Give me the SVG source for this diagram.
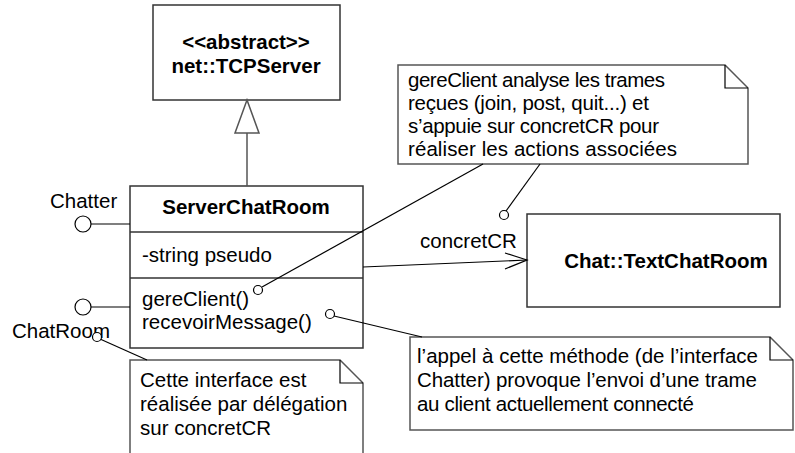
<svg xmlns="http://www.w3.org/2000/svg" width="795" height="453" viewBox="0 0 795 453">
<style>
text{font-family:"Liberation Sans",Arial,sans-serif;font-size:20.5px;fill:#000}
.b{font-weight:bold}
.box{fill:#fff;stroke:#333;stroke-width:1.5}
.note{fill:#fff;stroke:#555;stroke-width:1.5}
.ln{fill:none;stroke:#000;stroke-width:1.2}
.gl{fill:#fff;stroke:#555;stroke-width:1.5}
.c{fill:#fff;stroke:#000;stroke-width:1.2}
</style>
<rect width="795" height="453" fill="#fff"/>
<g id="tcpserver">
  <rect class="box" x="153" y="5" width="187" height="95"/>
  <text class="b" x="246" y="49" text-anchor="middle">&lt;&lt;abstract&gt;&gt;</text>
  <text class="b" x="246" y="73" text-anchor="middle">net::TCPServer</text>
</g>
<g id="serverchatroom">
  <rect class="box" x="130" y="186" width="233" height="162"/>
  <line class="box" x1="130" y1="232" x2="363" y2="232"/>
  <line class="box" x1="130" y1="278" x2="363" y2="278"/>
  <text class="b" x="246" y="214" text-anchor="middle">ServerChatRoom</text>
  <text x="142" y="262">-string pseudo</text>
  <text x="142" y="306">gereClient()</text>
  <text x="142" y="329">recevoirMessage()</text>
</g>
<g id="chatter">
  <circle class="c" cx="83" cy="224" r="8"/>
  <text x="50" y="208">Chatter</text>
</g>
<g id="chatroom">
  <circle class="c" cx="83" cy="307" r="8"/>
  <text x="12" y="338">ChatRoom</text>
</g>
<g id="textchatroom">
  <rect class="box" x="527" y="214" width="253" height="93"/>
  <text class="b" x="666" y="268" text-anchor="middle">Chat::TextChatRoom</text>
  <text x="420" y="248">concretCR</text>
</g>
<g id="note1">
  <polygon class="note" points="398,65 725,65 748,88 748,164 398,164"/>
  <polyline class="ln" points="725,65 725,88 748,88"/>
  <text x="408" y="87" textLength="257">gereClient analyse les trames</text>
  <text x="408" y="110" textLength="241">reçues (join, post, quit...) et</text>
  <text x="408" y="133" textLength="251">s’appuie sur concretCR pour</text>
  <text x="408" y="156" textLength="269">réaliser les actions associées</text>
</g>
<g id="note2">
  <polygon class="note" points="410,337 770,337 793,360 793,430 410,430"/>
  <polyline class="ln" points="770,337 770,360 793,360"/>
  <text x="417" y="363" textLength="341">l’appel à cette méthode (de l’interface</text>
  <text x="417" y="387" textLength="340">Chatter) provoque l’envoi d’une trame</text>
  <text x="417" y="411" textLength="277">au client actuellement connecté</text>
</g>
<g id="note3">
  <polygon class="note" points="130,360 340,360 363,383 363,460 130,460"/>
  <polyline class="ln" points="340,360 340,383 363,383"/>
  <text x="140" y="387">Cette interface est</text>
  <text x="140" y="411">réalisée par délégation</text>
  <text x="140" y="435">sur concretCR</text>
</g>
<g id="connectors">
  <line class="gl" x1="247" y1="133" x2="247" y2="186"/>
  <polygon class="gl" points="247,100 235,133 259,133"/>
  <line class="ln" x1="91" y1="224" x2="130" y2="224"/>
  <line class="ln" x1="91" y1="307" x2="130" y2="307"/>
  <line class="ln" x1="363" y1="267" x2="527" y2="260"/>
  <polyline class="ln" points="505,253 527,260 505,269"/>
  <line class="ln" x1="483" y1="164" x2="262" y2="287"/>
  <line class="ln" x1="540" y1="164" x2="506" y2="211"/>
  <line class="ln" x1="334" y1="316" x2="422" y2="337"/>
  <line class="ln" x1="100" y1="339" x2="147" y2="360"/>
  <circle class="c" cx="258" cy="290" r="4.5"/>
  <circle class="c" cx="504" cy="215" r="4.5"/>
  <circle class="c" cx="330" cy="314" r="4.5"/>
  <circle class="c" cx="97" cy="337" r="4.5"/>
</g>
</svg>
